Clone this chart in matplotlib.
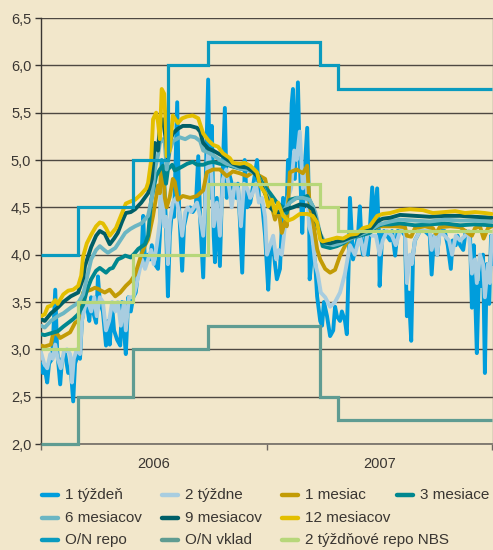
import matplotlib
matplotlib.use("Agg")
import matplotlib.pyplot as plt
import matplotlib.ticker as mticker
from matplotlib.lines import Line2D

plt.rcParams['font.family'] = ['Liberation Sans', 'DejaVu Sans']

# ---------------- data (x = days since 1 Jan 2006) ----------------
year_labels = ["2006", "2007"]
y_ticks = [2.0, 2.5, 3.0, 3.5, 4.0, 4.5, 5.0, 5.5, 6.0, 6.5]

# step policy rates
repo_on_edges = [0, 60, 149, 205, 270, 451, 480, 729]
repo_on_vals = [4.0, 4.5, 5.0, 6.0, 6.25, 6.0, 5.75]
dep_on_edges = [0, 60, 149, 270, 451, 480, 729]
dep_on_vals = [2.0, 2.5, 3.0, 3.25, 2.5, 2.25]
repo2w_edges = [0, 60, 149, 270, 451, 480, 729]
repo2w_vals = [3.0, 3.5, 4.0, 4.75, 4.5, 4.25]

# market rates
d12 = [0, 6, 11, 16, 23, 27, 36, 44, 52, 60, 65, 68, 74, 81, 89, 95, 100, 105, 111, 116, 121, 129, 137, 144, 152,
       162, 170, 173, 178, 181, 186, 189, 192, 195, 199, 202, 203, 208, 213, 221, 228, 236, 245, 254, 257, 262, 270,
       278, 286, 294, 305, 310, 321, 329, 338, 349, 354, 362, 367, 373, 378, 383, 391, 399, 407, 418, 430, 439, 446,
       451, 455, 467, 478, 488, 499, 510, 520, 531, 543, 552, 564, 580, 596, 617, 633, 652, 669, 685, 701, 717, 728]
v12 = [3.35, 3.37, 3.45, 3.46, 3.52, 3.48, 3.58, 3.62, 3.63, 3.67, 3.78, 3.98, 4.12, 4.21, 4.30, 4.34, 4.33, 4.28,
       4.20, 4.24, 4.28, 4.41, 4.54, 4.56, 4.58, 4.64, 4.70, 4.76, 5.00, 5.43, 5.50, 5.40, 5.22, 5.75, 5.70, 5.30,
       5.04, 5.10, 5.47, 5.39, 5.44, 5.46, 5.47, 5.44, 5.38, 5.28, 5.21, 5.16, 5.14, 5.07, 5.02, 4.97, 4.96, 4.97,
       4.94, 4.87, 4.73, 4.65, 4.51, 4.58, 4.44, 4.55, 4.41, 4.36, 4.38, 4.43, 4.43, 4.41, 4.34, 4.16, 4.14, 4.16,
       4.18, 4.17, 4.21, 4.22, 4.28, 4.30, 4.41, 4.43, 4.44, 4.47, 4.48, 4.47, 4.44, 4.45, 4.46, 4.44, 4.45, 4.44,
       4.43]

d9 = [0, 6, 16, 27, 36, 48, 60, 68, 71, 81, 89, 95, 103, 111, 118, 124, 131, 137, 145, 152, 162, 173, 179, 184, 189,
      192, 197, 202, 205, 208, 213, 221, 229, 241, 252, 257, 262, 270, 278, 286, 294, 302, 310, 321, 333, 342, 349,
      357, 365, 370, 378, 386, 397, 407, 418, 430, 439, 447, 455, 467, 478, 488, 499, 510, 520, 531, 543, 552, 564,
      580, 604, 628, 652, 677, 701, 728]
v9 = [3.32, 3.30, 3.38, 3.44, 3.50, 3.56, 3.60, 3.75, 3.88, 4.08, 4.20, 4.25, 4.22, 4.11, 4.17, 4.23, 4.35, 4.44,
      4.45, 4.48, 4.55, 4.65, 4.80, 5.18, 5.10, 5.36, 5.43, 5.20, 5.00, 5.20, 5.28, 5.33, 5.36, 5.36, 5.34, 5.30,
      5.18, 5.12, 5.10, 5.07, 5.04, 5.00, 4.96, 4.93, 4.92, 4.88, 4.83, 4.72, 4.60, 4.50, 4.45, 4.45, 4.48, 4.50,
      4.53, 4.52, 4.48, 4.30, 4.13, 4.12, 4.14, 4.15, 4.18, 4.20, 4.24, 4.26, 4.35, 4.38, 4.39, 4.42, 4.41, 4.40,
      4.41, 4.41, 4.40, 4.39]

d6 = [0, 6, 16, 27, 36, 48, 60, 68, 74, 81, 89, 95, 102, 108, 115, 120, 128, 136, 144, 152, 162, 173, 179, 184, 189,
      192, 197, 200, 203, 208, 213, 224, 233, 241, 249, 257, 262, 270, 278, 289, 300, 310, 321, 333, 342, 349, 357,
      365, 373, 381, 391, 402, 413, 423, 434, 443, 451, 459, 472, 483, 494, 504, 515, 526, 536, 547, 564, 580, 604,
      628, 652, 677, 701, 728]
v6 = [3.25, 3.23, 3.30, 3.35, 3.38, 3.44, 3.49, 3.58, 3.75, 3.95, 4.05, 4.09, 4.05, 4.02, 4.05, 4.07, 4.15, 4.23,
      4.27, 4.30, 4.33, 4.41, 4.60, 4.90, 5.05, 5.18, 5.22, 5.18, 4.90, 5.10, 5.20, 5.24, 5.22, 5.25, 5.24, 5.20,
      5.10, 5.08, 5.05, 5.00, 4.96, 4.94, 4.91, 4.90, 4.87, 4.84, 4.73, 4.62, 4.52, 4.48, 4.46, 4.55, 4.60, 4.60,
      4.58, 4.45, 4.22, 4.12, 4.10, 4.12, 4.15, 4.18, 4.21, 4.24, 4.28, 4.32, 4.35, 4.37, 4.36, 4.35, 4.37, 4.36,
      4.36, 4.35]

d3 = [0, 6, 16, 27, 36, 44, 52, 60, 68, 74, 81, 89, 95, 105, 111, 116, 124, 131, 136, 145, 152, 157, 168, 173, 178,
      186, 192, 197, 202, 205, 212, 216, 228, 236, 245, 252, 262, 270, 278, 289, 300, 310, 321, 333, 342, 349, 359,
      370, 381, 391, 397, 402, 413, 423, 430, 439, 447, 455, 467, 478, 488, 499, 515, 531, 543, 552, 564, 580, 604,
      628, 652, 677, 701, 728]
v3 = [3.16, 3.15, 3.17, 3.19, 3.24, 3.28, 3.32, 3.37, 3.47, 3.62, 3.74, 3.83, 3.86, 3.81, 3.85, 3.86, 3.95, 3.97,
      3.99, 3.97, 4.02, 4.06, 4.11, 4.20, 4.58, 4.83, 4.90, 4.94, 4.75, 4.90, 4.95, 4.89, 4.93, 4.96, 4.98, 4.95,
      4.95, 4.97, 4.98, 4.96, 4.95, 4.93, 4.91, 4.90, 4.88, 4.86, 4.74, 4.65, 4.55, 4.50, 4.44, 4.58, 4.60, 4.60,
      4.62, 4.51, 4.30, 4.09, 4.07, 4.09, 4.12, 4.17, 4.20, 4.23, 4.30, 4.32, 4.32, 4.33, 4.31, 4.32, 4.33, 4.31,
      4.32, 4.31]

d1m = [0, 6, 16, 19, 24, 31, 39, 47, 55, 60, 63, 68, 76, 81, 87, 92, 97, 103, 111, 120, 128, 137, 145, 152, 162, 168,
       173, 181, 189, 192, 194, 197, 200, 203, 208, 213, 216, 221, 229, 241, 252, 262, 268, 278, 289, 300, 310, 321,
       333, 342, 354, 362, 370, 378, 383, 389, 394, 397, 402, 413, 423, 430, 434, 439, 446, 451, 459, 467, 475, 483,
       494, 504, 515, 526, 536, 547, 559, 572, 588, 591, 598, 604, 620, 633, 638, 644, 661, 677, 696, 701, 709, 715,
       722, 728]
v1m = [3.04, 3.03, 3.05, 3.15, 3.18, 3.12, 3.15, 3.18, 3.28, 3.30, 3.45, 3.60, 3.62, 3.63, 3.65, 3.64, 3.62, 3.60,
       3.63, 3.56, 3.60, 3.67, 3.72, 3.79, 4.00, 4.10, 4.16, 4.41, 4.73, 4.65, 4.90, 4.93, 4.60, 4.50, 4.61, 4.80,
       4.77, 4.58, 4.62, 4.60, 4.62, 4.68, 4.87, 4.90, 4.90, 4.83, 4.88, 4.86, 4.83, 4.87, 4.83, 4.80, 4.58, 4.37,
       4.50, 4.23, 4.35, 4.30, 4.87, 4.90, 4.86, 4.94, 4.51, 4.37, 4.06, 3.95, 3.85, 3.81, 3.84, 3.99, 4.13, 4.20,
       4.23, 4.27, 4.27, 4.30, 4.30, 4.30, 4.29, 4.20, 4.19, 4.28, 4.30, 4.28, 4.22, 4.29, 4.30, 4.29, 4.20, 4.28,
       4.30, 4.17, 4.28, 4.30]

d2w = [0, 5, 10, 15, 19, 23, 27, 32, 37, 42, 47, 50, 53, 58, 63, 66, 71, 76, 81, 86, 90, 95, 100, 105, 110, 115, 120,
       124, 129, 134, 137, 142, 149, 153, 158, 163, 168, 173, 178, 182, 187, 192, 195, 199, 202, 205, 208, 213, 218,
       223, 228, 233, 237, 242, 247, 252, 257, 262, 266, 270, 275, 279, 284, 289, 294, 299, 304, 308, 313, 318, 323,
       328, 333, 338, 342, 347, 352, 357, 362, 365, 370, 375, 380, 384, 389, 394, 399, 404, 409, 413, 418, 423, 428,
       433, 438, 443, 447, 452, 459, 467, 475, 483, 491, 499, 507, 515, 522, 528, 535, 541, 547, 552, 559, 567, 573,
       580, 588, 591, 596, 599, 604, 612, 628, 631, 636, 640, 644, 652, 659, 664, 670, 677, 685, 691, 696, 701, 704,
       709, 714, 717, 722, 725, 728]
v2w = [2.97, 2.85, 2.80, 2.95, 2.90, 3.05, 2.90, 2.80, 2.98, 3.00, 2.95, 2.65, 2.90, 3.00, 2.95, 3.30, 3.45, 3.50,
       3.40, 3.55, 3.35, 3.55, 3.50, 3.20, 3.30, 3.50, 3.40, 3.50, 3.25, 3.50, 3.20, 3.55, 3.55, 3.65, 3.80, 3.95,
       3.85, 3.95, 4.05, 3.90, 4.10, 4.35, 4.90, 4.30, 4.40, 3.90, 4.35, 4.55, 4.60, 4.45, 4.20, 4.45, 4.50, 4.45,
       4.50, 4.55, 4.40, 4.20, 4.60, 5.10, 4.90, 4.30, 4.55, 4.20, 4.80, 4.90, 4.70, 4.50, 4.75, 4.70, 4.30, 4.75,
       4.70, 4.60, 4.65, 4.75, 4.55, 4.60, 4.40, 4.00, 4.10, 4.20, 3.95, 4.05, 4.00, 4.30, 4.60, 4.70, 5.10, 5.00,
       5.30, 4.70, 4.90, 4.30, 4.20, 3.90, 3.80, 3.60, 3.55, 3.45, 3.50, 3.60, 3.80, 4.10, 4.00, 4.20, 4.00, 4.25,
       4.20, 4.20, 4.00, 4.15, 4.25, 4.20, 4.10, 4.25, 4.25, 3.70, 4.00, 3.90, 4.15, 4.25, 4.25, 4.05, 4.20, 4.00,
       4.25, 4.20, 4.15, 4.00, 4.20, 4.15, 4.20, 4.25, 3.80, 3.95, 3.70, 4.00, 3.90, 3.55, 3.90, 3.70, 4.20]

d1w = [0, 3, 6, 10, 13, 18, 23, 26, 31, 34, 39, 44, 48, 52, 55, 60, 63, 66, 71, 74, 78, 81, 84, 89, 92, 95, 100, 105,
       108, 111, 115, 118, 123, 128, 131, 134, 137, 141, 145, 149, 153, 158, 162, 165, 168, 173, 176, 179, 184, 189,
       192, 195, 199, 202, 205, 208, 212, 215, 220, 223, 228, 231, 236, 241, 245, 250, 254, 257, 262, 265, 270, 273,
       276, 279, 281, 284, 289, 292, 297, 300, 305, 310, 315, 318, 321, 325, 328, 329, 333, 338, 342, 349, 352, 357,
       362, 367, 370, 375, 378, 381, 386, 391, 396, 399, 402, 405, 407, 410, 413, 415, 418, 422, 425, 430, 433, 434,
       439, 443, 446, 451, 454, 457, 462, 467, 472, 475, 478, 483, 486, 491, 494, 497, 499, 502, 504, 509, 512, 515,
       518, 520, 525, 528, 531, 535, 538, 543, 546, 547, 551, 554, 559, 564, 567, 572, 576, 583, 588, 591, 594, 598,
       601, 604, 612, 620, 628, 631, 635, 640, 644, 652, 657, 662, 665, 670, 673, 677, 682, 686, 693, 696, 699, 704,
       707, 711, 714, 717, 720, 724, 727, 728]
v1w = [2.85, 2.75, 2.80, 2.65, 2.85, 2.90, 3.63, 3.00, 2.63, 2.90, 2.95, 2.75, 2.80, 2.45, 2.85, 2.95, 2.90, 3.30,
       3.50, 3.47, 3.30, 3.55, 3.40, 3.28, 3.77, 3.50, 3.40, 3.04, 3.30, 3.05, 3.45, 3.20, 3.10, 3.04, 3.50, 3.20,
       2.95, 3.55, 3.40, 3.55, 3.60, 3.88, 3.90, 4.41, 3.90, 4.00, 3.95, 4.10, 3.90, 3.85, 4.20, 5.00, 4.80, 4.30,
       3.56, 4.20, 4.50, 4.40, 5.61, 4.50, 3.83, 4.30, 4.45, 4.50, 4.45, 4.50, 5.04, 4.40, 3.76, 4.50, 5.85, 4.60,
       5.36, 4.20, 3.92, 4.60, 3.88, 4.60, 5.55, 4.60, 4.83, 4.70, 4.60, 4.75, 4.40, 3.81, 4.50, 5.00, 4.50, 4.55,
       4.70, 5.00, 4.60, 4.55, 4.20, 3.63, 4.00, 4.10, 3.90, 3.74, 3.85, 4.60, 4.30, 5.00, 4.90, 5.60, 5.75, 4.80,
       5.40, 5.82, 5.00, 4.23, 4.80, 5.34, 4.50, 3.74, 4.09, 3.90, 3.56, 3.30, 3.25, 3.50, 3.35, 3.14, 3.20, 3.45,
       3.35, 3.30, 3.40, 3.30, 3.16, 3.90, 4.60, 4.20, 3.95, 4.10, 4.20, 4.51, 4.10, 4.00, 4.20, 4.00, 4.25, 4.71,
       4.30, 4.70, 4.20, 3.67, 4.20, 4.25, 4.20, 4.15, 4.25, 3.99, 4.25, 4.25, 4.20, 3.35, 3.60, 3.09, 4.00, 4.15,
       4.25, 4.25, 4.20, 3.79, 4.20, 4.00, 4.25, 4.25, 4.10, 3.85, 4.15, 4.10, 4.20, 4.10, 4.05, 4.25, 4.20, 3.44,
       4.10, 2.96, 3.70, 3.67, 4.00, 2.75, 3.90, 3.48, 4.20, 3.90]

market = [
    ("1 týždeň", d1w, v1w, "#009ddc"),
    ("2 týždne", d2w, v2w, "#a8cde0"),
    ("1 mesiac", d1m, v1m, "#c29b05"),
    ("3 mesiace", d3, v3, "#00878f"),
    ("6 mesiacov", d6, v6, "#6cb6c3"),
    ("9 mesiacov", d9, v9, "#005f67"),
    ("12 mesiacov", d12, v12, "#e3bf00"),
]
steps = [
    ("O/N repo", repo_on_edges, repo_on_vals, "#0a9bbf"),
    ("O/N vklad", dep_on_edges, dep_on_vals, "#5f9c92"),
    ("2 týždňové repo NBS", repo2w_edges, repo2w_vals, "#b7d77a"),
]

# ---------------- figure ----------------
BG = "#f2e7cb"
TXT = "#3a3632"
W, H = 493, 550
fig = plt.figure(figsize=(W / 100, H / 100), dpi=100, facecolor=BG)
ax = fig.add_axes([41 / W, 1 - 444 / H, (492.5 - 41) / W, (444 - 18) / H], facecolor=BG)

for i, (name, d, v, c) in enumerate(market):
    ax.plot(d, v, color=c, lw=2.8, solid_joinstyle='round', solid_capstyle='round', zorder=3 + i)

for name, e, v, c in steps:
    ax.stairs(v, e, baseline=None, color=c, lw=2.3, zorder=12, clip_on=False)

ax.set_xlim(0, 729.3)
ax.set_ylim(2.0, 6.5)
ax.set_yticks(y_ticks)
ax.yaxis.set_major_formatter(mticker.FuncFormatter(lambda v, p: f"{v:.1f}".replace('.', ',')))
ax.grid(axis='y', color='#4e4842', lw=1.0, zorder=1)
ax.set_axisbelow(True)

ax.set_xticks([0, 365, 729.3])
ax.set_xticklabels([])
ax.set_xticks([182.5, 547.5], minor=True)
ax.set_xticklabels(year_labels, minor=True)
ax.tick_params(axis='x', which='major', length=4, width=1, color='#6e6862', direction='out')
ax.tick_params(axis='x', which='minor', length=0, pad=9, labelsize=10.5, labelcolor=TXT)
ax.tick_params(axis='y', length=4, width=1, color='#3a3632', direction='out', pad=3,
               labelsize=10.5, labelcolor=TXT)

ax.spines['top'].set_visible(False)
ax.spines['left'].set_color('#3a3632')
ax.spines['left'].set_linewidth(1.0)
ax.spines['right'].set_color('#8a847c')
ax.spines['right'].set_linewidth(1.0)
ax.spines['bottom'].set_color('#7a746c')
ax.spines['bottom'].set_linewidth(1.3)
ax.spines['bottom'].set_zorder(1.5)

# ---------------- legend (manual layout) ----------------
entries = [m[0] for m in market] + [s[0] for s in steps]
colors = [m[3] for m in market] + [s[3] for s in steps]
slots = [(40, 495), (160, 495), (280, 495), (395, 495),
         (40, 518), (160, 518), (280, 518),
         (40, 540), (160, 540), (280, 540)]
for (px, py), lab, c in zip(slots, entries, colors):
    yy = 1 - py / H
    fig.add_artist(Line2D([(px + 2) / W, (px + 18) / W], [yy, yy], transform=fig.transFigure,
                          color=c, lw=3.2, solid_capstyle='round'))
    fig.text((px + 25) / W, yy, lab, ha='left', va='center', fontsize=11, color=TXT)

fig.savefig("out.png", dpi=100, facecolor=BG)
